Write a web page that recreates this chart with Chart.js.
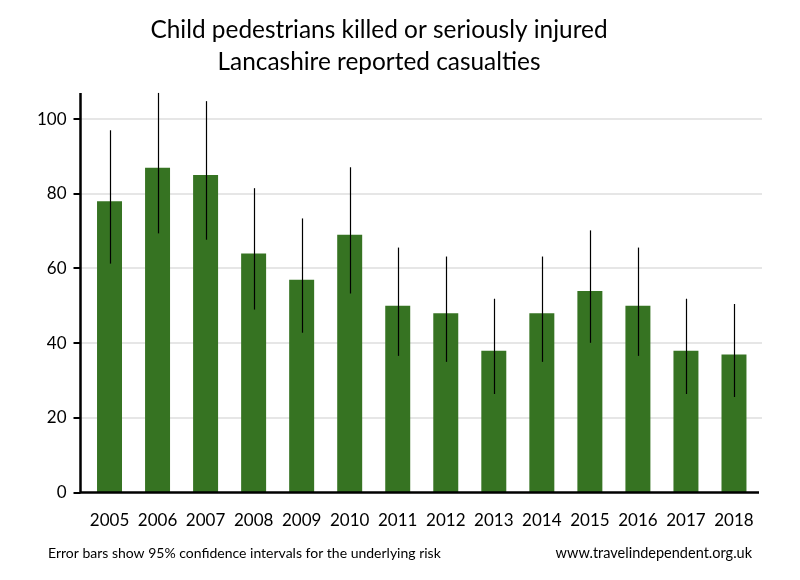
<!DOCTYPE html>
<html>
<head>
<meta charset="utf-8">
<script src="https://cdn.jsdelivr.net/npm/chart.js@4"></script>
<style>
  body { margin: 0; background: #fff; }
  #wrap { width: 800px; height: 580px; }
</style>
</head>
<body>
<div id="wrap"><canvas id="myChart" width="800" height="580"></canvas></div>
<script>
const ctx = document.getElementById('myChart');

const years = ['2005', '2006', '2007', '2008', '2009', '2010', '2011', '2012', '2013', '2014', '2015', '2016', '2017', '2018'];
const casualties = [78, 87, 85, 64, 57, 69, 50, 48, 38, 48, 54, 50, 38, 37];
const lowerCI = [61.3, 69.4, 67.7, 49, 42.8, 53.3, 36.6, 35, 26.4, 35, 40.1, 36.6, 26.4, 25.6];
const upperCI = [97, 107, 104.8, 81.5, 73.4, 87.1, 65.6, 63.2, 51.9, 63.2, 70.2, 65.6, 51.9, 50.5];

const titleLines = ['Child pedestrians killed or seriously injured', 'Lancashire reported casualties'];
const noteLeft = 'Error bars show 95% confidence intervals for the underlying risk';
const noteRight = 'www.travelindependent.org.uk';

const fontFamily = 'Lato, "Open Sans", sans-serif';

// grid, axis lines and tick marks drawn a little apart from the category area, like the original
const framePlugin = {
  id: 'frame',
  beforeDatasetsDraw(chart) {
    const c = chart.ctx;
    const area = chart.chartArea;
    const y = chart.scales.y;
    c.save();
    c.strokeStyle = '#e6e6e6';
    c.lineWidth = 2;
    y.ticks.forEach(t => {
      if (t.value === 0) return;
      const py = Math.round(y.getPixelForValue(t.value));
      c.beginPath();
      c.moveTo(area.left - 5, py);
      c.lineTo(area.right + 4, py);
      c.stroke();
    });
    c.restore();
  },
  afterDatasetsDraw(chart) {
    const c = chart.ctx;
    const area = chart.chartArea;
    const y = chart.scales.y;
    const meta = chart.getDatasetMeta(0);
    c.save();
    // error bars
    c.strokeStyle = '#000';
    c.lineWidth = 1.2;
    meta.data.forEach((bar, i) => {
      c.beginPath();
      c.moveTo(Math.round(bar.x) + 0.5, y.getPixelForValue(upperCI[i]));
      c.lineTo(Math.round(bar.x) + 0.5, y.getPixelForValue(lowerCI[i]));
      c.stroke();
    });
    // axes
    c.lineWidth = 2.5;
    const ax = area.left - 5;
    c.beginPath();
    c.moveTo(ax, area.top);
    c.lineTo(ax, area.bottom);
    c.lineTo(area.right + 1, area.bottom);
    c.stroke();
    // tick marks on y axis
    c.lineWidth = 2;
    y.ticks.forEach(t => {
      const py = Math.round(y.getPixelForValue(t.value));
      c.beginPath();
      c.moveTo(ax - 7, py);
      c.lineTo(ax, py);
      c.stroke();
    });
    // footnotes
    c.fillStyle = '#000';
    c.font = '14px ' + fontFamily;
    c.textBaseline = 'middle';
    c.textAlign = 'left';
    c.fillText(noteLeft, 48, 553);
    c.font = '14.5px ' + fontFamily;
    c.textAlign = 'right';
    c.fillText(noteRight, 752, 553);
    c.restore();
  }
};

new Chart(ctx, {
  type: 'bar',
  data: {
    labels: years,
    datasets: [{
      label: 'Casualties',
      data: casualties,
      backgroundColor: '#367322',
      borderWidth: 0,
      categoryPercentage: 1,
      barPercentage: 0.52
    }]
  },
  options: {
    responsive: false,
    animation: false,
    layout: {
      padding: { left: 0, right: 42, top: 6, bottom: 31 }
    },
    plugins: {
      legend: { display: false },
      tooltip: { enabled: false },
      title: {
        display: true,
        text: titleLines,
        color: '#000',
        font: { family: fontFamily, size: 24.4, weight: 'normal', lineHeight: 1.31 },
        padding: { top: 8, bottom: 15 }
      }
    },
    scales: {
      x: {
        grid: { display: false, drawTicks: false },
        border: { display: false },
        ticks: {
          color: '#000',
          padding: 18,
          maxRotation: 0,
          autoSkip: false,
          font: { family: fontFamily, size: 17 }
        }
      },
      y: {
        min: 0,
        max: 107,
        afterFit(scale) { scale.width = 85.5; },
        grid: { display: false, drawTicks: false },
        border: { display: false },
        ticks: {
          stepSize: 20,
          includeBounds: false,
          color: '#000',
          padding: 19,
          font: { family: fontFamily, size: 17 }
        }
      }
    }
  },
  plugins: [framePlugin]
});
</script>
</body>
</html>
